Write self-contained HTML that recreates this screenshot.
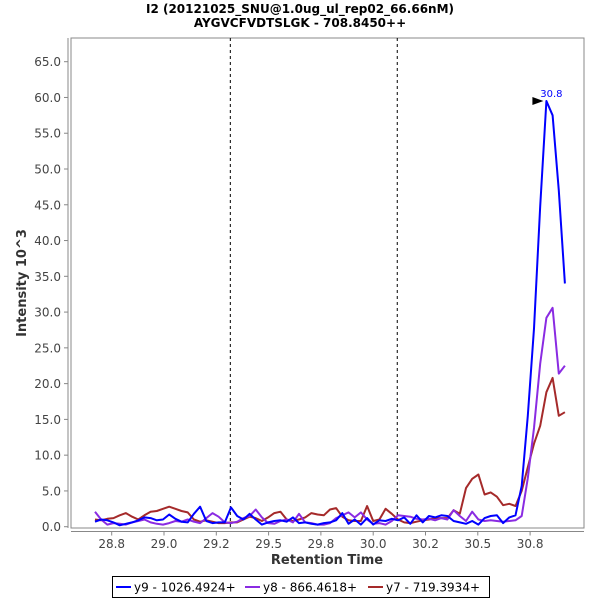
<!DOCTYPE html>
<html><head><meta charset="utf-8"><style>
html,body{margin:0;padding:0;background:#fff;}
svg{display:block;font-family:"DejaVu Sans","Liberation Sans",sans-serif;}
</style></head><body>
<svg id="chart" width="600" height="600" viewBox="0 0 600 600">
<rect x="0" y="0" width="600" height="600" fill="#fff"/>
<text x="300" y="13" text-anchor="middle" font-size="12" font-weight="bold" fill="#000">I2 (20121025_SNU@1.0ug_ul_rep02_66.66nM)</text>
<text x="300" y="27" text-anchor="middle" font-size="12" font-weight="bold" fill="#000">AYGVCFVDTSLGK - 708.8450++</text>
<rect x="71" y="38" width="513" height="490" fill="#fff" stroke="#888" stroke-width="1"/>
<line x1="68" y1="38" x2="68" y2="528" stroke="#888"/>
<line x1="71" y1="531.5" x2="584" y2="531.5" stroke="#888"/>
<g id="yticks"></g><g id="xticks"></g>
<g id="marks"></g>
<text x="327" y="564" text-anchor="middle" font-size="13" font-weight="bold" fill="#333">Retention Time</text>
<text transform="translate(26,283) rotate(-90)" text-anchor="middle" font-size="13" font-weight="bold" fill="#333">Intensity 10^3</text>
<g>
<rect x="112.5" y="576.5" width="377" height="21" fill="#fff" stroke="#000"/>
<g><line x1="116" y1="587" x2="131" y2="587" stroke="#0000ff" stroke-width="2"/><text x="134" y="591.5" font-size="12" fill="#000">y9 - 1026.4924+</text></g>
<g><line x1="245" y1="587" x2="260" y2="587" stroke="#8a2be2" stroke-width="2"/><text x="263" y="591.5" font-size="12" fill="#000">y8 - 866.4618+</text></g>
<g><line x1="368" y1="587" x2="383" y2="587" stroke="#a52a2a" stroke-width="2"/><text x="386" y="591.5" font-size="12" fill="#000">y7 - 719.3934+</text></g>
</g>
</svg>
<script>
const yTicks = [0,5,10,15,20,25,30,35,40,45,50,55,60,65];
const xTicks = [28.75,29.0,29.25,29.5,29.75,30.0,30.25,30.5,30.75];
const xTickLabels = ["28.8","29.0","29.2","29.5","29.8","30.0","30.2","30.5","30.8"];
const boundaries = [29.317, 30.115];
const tStart = 28.670, tStep = 0.02956, nPts = 77;
const y9 = [0.7,1.0,0.9,0.6,0.2,0.4,0.6,0.9,1.3,1.2,
0.9,1.0,1.7,1.1,0.7,0.6,1.8,2.8,0.8,0.5,
0.6,0.6,2.7,1.5,1.0,1.8,1.0,0.3,0.6,0.8,
0.9,0.7,1.3,0.5,0.6,0.4,0.3,0.5,0.6,0.9,
1.9,0.4,1.0,0.3,1.2,0.3,0.9,0.8,1.1,0.9,
1.3,0.4,1.6,0.6,1.5,1.3,1.6,1.5,0.8,0.6,
0.4,0.8,0.3,1.2,1.5,1.6,0.5,1.3,1.6,
5.7,15.5,27.7,44.8,59.5,57.5,47.0,34.0];
const y8 = [2.1,1.0,0.3,0.5,0.4,0.3,0.6,0.8,1.0,0.6,
0.4,0.3,0.5,0.8,0.7,1.0,0.7,0.5,1.2,1.9,
1.4,0.6,0.5,0.7,1.2,1.5,2.4,1.3,0.5,0.4,
0.8,1.0,0.6,1.8,0.6,0.5,0.3,0.3,0.5,1.2,
1.6,2.0,1.3,2.0,1.0,0.4,0.5,0.3,0.8,1.6,
1.5,1.4,1.1,1.0,1.1,0.9,1.2,1.0,2.3,1.5,
0.8,2.1,1.0,0.8,0.9,0.8,0.7,0.8,
0.9,1.5,6.8,13.8,22.8,29.2,30.6,21.4,22.5];
const y7 = [1.0,0.9,1.1,1.2,1.6,1.9,1.4,1.0,1.6,2.1,
2.2,2.5,2.8,2.5,2.2,2.0,1.0,0.7,0.9,0.7,
0.5,0.5,0.6,0.6,1.0,1.4,1.2,0.8,1.3,1.9,
2.1,1.0,0.8,1.0,1.3,1.9,1.7,1.6,2.4,2.6,
1.4,0.9,0.8,0.8,2.9,0.8,1.0,2.5,1.8,1.0,
0.6,0.5,0.7,0.9,1.0,1.2,1.2,
1.2,2.3,1.8,5.4,6.7,7.3,4.5,4.8,4.2,3.0,3.2,
2.9,5.0,8.3,11.6,14.1,18.8,20.8,15.5,16.0];
const peakLabel = "30.8";

const NS = "http://www.w3.org/2000/svg";
function xs(t){ return 111.7 + (t - 28.75) * 209.2; }
function ys(v){ return 526.7 - v * 7.154; }
function mk(tag, attrs, parent){ const e=document.createElementNS(NS,tag); for(const k in attrs) e.setAttribute(k,attrs[k]); parent.appendChild(e); return e; }
const times = [];
for(let i=0;i<nPts;i++) times.push(tStart + i*tStep);

const yg = document.getElementById('yticks');
yTicks.forEach(v=>{
  const l = mk('line',{x1:64,x2:68,y1:ys(v),y2:ys(v),stroke:'#888'},yg);
  
  
  const t = mk('text',{x:61,y:ys(v)+4.5,'text-anchor':'end','font-size':12,fill:'#444'},yg);
  
  
  t.textContent = v.toFixed(1);
});
const xg = document.getElementById('xticks');
xTicks.forEach((v,i)=>{
  const l = mk('line',{x1:xs(v),x2:xs(v),y1:531.5,y2:535.5,stroke:'#888'},xg);
  
  
  const t = mk('text',{x:xs(v),y:548,'text-anchor':'middle','font-size':12,fill:'#444'},xg);
  
  
  t.textContent = xTickLabels[i];
});
const mg = document.getElementById('marks');
boundaries.forEach(b=>{
  const l = mk('line',{x1:xs(b),x2:xs(b),y1:38,y2:528,stroke:'#000','stroke-dasharray':'3,3','stroke-width':1},mg);
  
  
});
function series(vals,color,name){
  const pts = vals.map((v,i)=>xs(times[i]).toFixed(1)+','+ys(v).toFixed(1)).join(' ');
  const p = mk('polyline',{points:pts,fill:'none',stroke:color,'stroke-width':2,'stroke-linejoin':'round'},mg);
  
  
}
series(y7,'#a52a2a','series-y7');
series(y8,'#8a2be2','series-y8');
series(y9,'#0000ff','series-y9');
let pi=0; y9.forEach((v,i)=>{ if(v>y9[pi]) pi=i; });
const px = xs(times[pi]), py = ys(y9[pi]);
const arr = mk('polygon',{points:(px-14)+','+(py-4)+' '+(px-3)+','+py+' '+(px-14)+','+(py+4),fill:'#000'},mg);


const pl = mk('text',{x:px+5,y:py-4,'text-anchor':'middle','font-size':10,fill:'#0000ff'},mg);


pl.textContent = peakLabel;
</script>
</body></html>
